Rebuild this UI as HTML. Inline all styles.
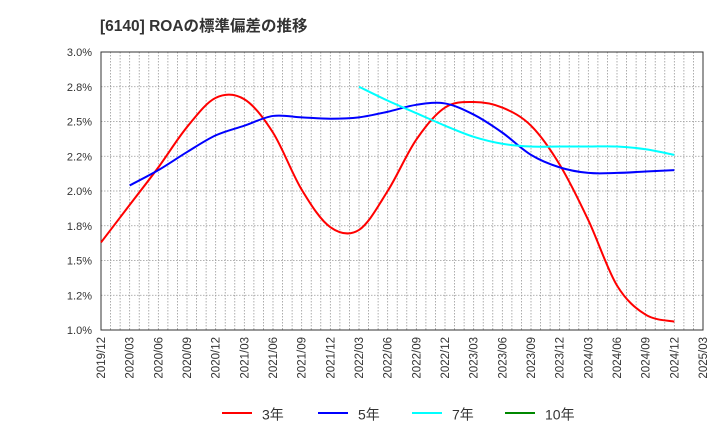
<!DOCTYPE html>
<html><head><meta charset="utf-8"><style>
body{margin:0;background:#fff;font-family:"Liberation Sans","Noto Sans CJK JP",sans-serif;}
</style></head><body>
<svg id="c" width="720" height="440" xmlns="http://www.w3.org/2000/svg">
<text x="100" y="31" font-size="15.5" font-weight="bold" fill="#333">[6140]  ROAの標準偏差の推移</text>
<g id="grid"></g><g id="axes"></g><g id="series"></g><g id="legend"></g>
</svg>
<script>
const xLabels=["2019/12","2020/03","2020/06","2020/09","2020/12","2021/03","2021/06","2021/09","2021/12","2022/03","2022/06","2022/09","2022/12","2023/03","2023/06","2023/09","2023/12","2024/03","2024/06","2024/09","2024/12","2025/03"];
const yTicks=[1.0,1.25,1.5,1.75,2.0,2.25,2.5,2.75,3.0];
const yTickLabels=["1.0%","1.2%","1.5%","1.8%","2.0%","2.2%","2.5%","2.8%","3.0%"];
const s3=[1.63,1.90,2.17,2.46,2.67,2.66,2.42,2.01,1.74,1.72,2.00,2.37,2.60,2.64,2.60,2.47,2.19,1.79,1.32,1.11,1.06];
const s5=[null,2.04,2.15,2.28,2.40,2.47,2.54,2.53,2.52,2.53,2.57,2.62,2.63,2.55,2.42,2.26,2.17,2.13,2.13,2.14,2.15];
const s7=[null,null,null,null,null,null,null,null,null,2.75,2.65,2.56,2.47,2.39,2.34,2.32,2.32,2.32,2.32,2.30,2.26];
const s10=[];
const L=101,R=703,T=52,B=330,NS="http://www.w3.org/2000/svg";
const xq=i=>L+(R-L)*i/(xLabels.length-1);
const yv=v=>B-(v-1.0)/2.0*(B-T);
function mk(tag,attrs,parent){const e=document.createElementNS(NS,tag);for(const k in attrs)e.setAttribute(k,attrs[k]);document.getElementById(parent).appendChild(e);return e;}
for(let m=0;m<=63;m++){const x=L+(R-L)*m/63;
const g=mk('line',{x1:x,x2:x,y1:T,y2:B,stroke:'#999','stroke-dasharray':'1.5,1.5','stroke-width':0.8},'grid');

}
yTicks.forEach((v,i)=>{const y=yv(v);
const g=mk('line',{x1:L,x2:R,y1:y,y2:y,stroke:'#999','stroke-dasharray':'1.5,1.5','stroke-width':0.8},'grid');


const t=mk('text',{x:92,y:y+4,'font-size':11,fill:'#333','text-anchor':'end'},'axes');t.textContent=yTickLabels[i];

});
const fr=mk('rect',{x:L,y:T,width:R-L,height:B-T,fill:'none',stroke:'#333','stroke-width':1},'axes');


xLabels.forEach((l,i)=>{const x=xq(i)+4;
const t=mk('text',{x:x,y:337,'font-size':11.5,fill:'#333','text-anchor':'end',transform:`rotate(-90 ${x} 337)`},'axes');t.textContent=l;

});
function path(arr){const p=[];arr.forEach((v,i)=>{if(v!=null)p.push([xq(i),yv(v)]);});
if(p.length<2)return '';let d=`M${p[0][0]},${p[0][1]}`;
for(let i=0;i<p.length-1;i++){const p0=p[i-1]||p[i],p1=p[i],p2=p[i+1],p3=p[i+2]||p2;
d+=` C${p1[0]+(p2[0]-p0[0])/6},${p1[1]+(p2[1]-p0[1])/6} ${p2[0]-(p3[0]-p1[0])/6},${p2[1]-(p3[1]-p1[1])/6} ${p2[0]},${p2[1]}`;}return d;}
[[s3,'#f00','series-3y'],[s5,'#00f','series-5y'],[s7,'#0ff','series-7y'],[s10,'#080','series-10y']].forEach(([a,c,n])=>{
const d=path(a);if(!d)return;const e=mk('path',{d:d,fill:'none',stroke:c,'stroke-width':2},'series');

});
[['3年','#f00',222],['5年','#00f',318],['7年','#0ff',412],['10年','#080',505]].forEach(([t,c,x])=>{
const l=mk('line',{x1:x,x2:x+30,y1:413,y2:413,stroke:c,'stroke-width':2},'legend');


const tx=mk('text',{x:x+40,y:419.5,'font-size':14,fill:'#333'},'legend');tx.textContent=t;

});
</script>
</body></html>
